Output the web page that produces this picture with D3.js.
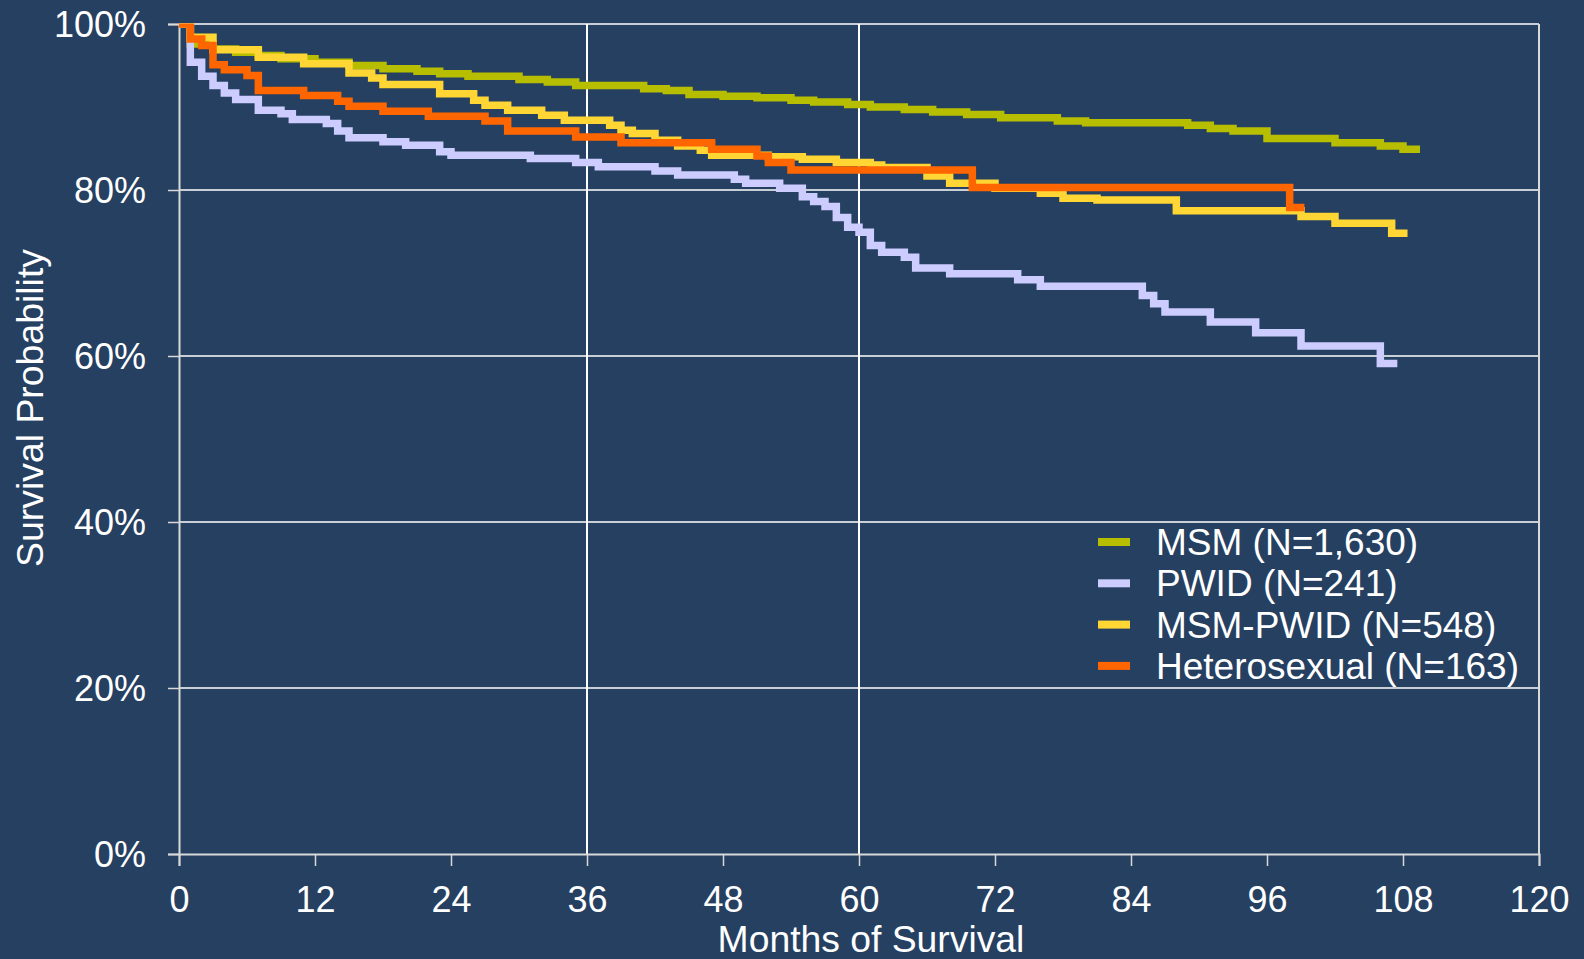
<!DOCTYPE html>
<html>
<head>
<meta charset="utf-8">
<script src="https://cdn.jsdelivr.net/npm/d3@7"></script>
<style>
  html, body { margin: 0; padding: 0; background: #264061; }
  svg { display: block; }
  text { font-family: "Liberation Sans", Arial, sans-serif; fill: #ffffff; }
</style>
</head>
<body>
<svg id="chart" width="1584" height="959"></svg>
<script>
// Kaplan–Meier survival steps: [month, survival %], each value holds until the next month listed.
// The last pair marks where follow-up for the group ends.
const msmSteps = [
  [0,100],[1,97.6],[3,97.0],[5,96.6],[7,96.2],[9,95.8],[12,95.4],[15,95.0],[18,94.6],[21,94.3],
  [23,94.0],[25.5,93.7],[30,93.3],[32.5,93.0],[35,92.6],[41,92.2],[43,92.0],[45,91.5],[48,91.3],
  [51,91.1],[54,90.8],[56,90.6],[59,90.3],[61,90.0],[64,89.7],[66.5,89.4],[69.5,89.1],[72.5,88.7],
  [77.5,88.3],[80,88.1],[89,87.8],[91,87.4],[93,87.1],[96,86.2],[102,85.7],[106,85.3],[108,84.9],
  [109.5,84.9]
];
const pwidSteps = [
  [0,100],[1,95.4],[2,93.7],[3,92.6],[4,91.7],[5,90.9],[7,89.6],[9,89.2],[10,88.5],[13,88.0],
  [14,87.1],[15,86.3],[18,85.8],[20,85.4],[23,84.6],[24,84.2],[31,83.8],[35,83.3],[37,82.8],
  [42,82.3],[44,81.8],[49,81.3],[50,80.8],[53,80.2],[55,79.2],[56,78.6],[57,78.0],[58,76.7],
  [59,75.5],[60,74.9],[61,73.3],[62,72.5],[64,71.9],[65,70.6],[68,69.9],[74,69.2],[76,68.4],
  [85,67.3],[86,66.3],[87,65.3],[91,64.1],[95,62.8],[99,61.2],[106,59.1],[107.5,59.1]
];
const msmPwidSteps = [
  [0,100],[1,98.4],[3,96.9],[7,96.0],[11,95.2],[15,94.1],[17,93.5],[18,92.7],[23,91.6],[26,90.8],
  [27,90.2],[29,89.6],[32,89.0],[34,88.4],[38,87.8],[39,87.2],[40,86.8],[42,86.0],[44,85.3],
  [46,84.8],[47,84.2],[52,84.0],[55,83.7],[58,83.3],[61,83.0],[62,82.7],[66,81.7],[68,80.8],
  [72,80.2],[76,79.6],[78,79.0],[81,78.8],[88,77.5],[99,76.8],[102,76.0],[107,74.8],[108.4,74.8]
];
const heteroSteps = [
  [0,100],[1,98.2],[2,97.4],[3,95.1],[4,94.5],[6,93.8],[7,92.0],[11,91.4],[14,90.7],[15,90.1],
  [18,89.5],[22,88.9],[27,88.3],[29,87.1],[35,86.4],[39,85.7],[47,84.9],[51,84.1],[52,83.3],
  [54,82.4],[70,80.3],[98,77.9],[99.3,77.9]
];

const seriesNames = ["MSM (N=1,630)", "PWID (N=241)", "MSM-PWID (N=548)", "Heterosexual (N=163)"];
const seriesColors = ["#B7BE00", "#CCCCFF", "#FFD633", "#FF6600"];
const seriesSteps = [msmSteps, pwidSteps, msmPwidSteps, heteroSteps];

const xTicks = [0, 12, 24, 36, 48, 60, 72, 84, 96, 108, 120];
const yTicks = [0, 20, 40, 60, 80, 100];
const refMonths = [36, 60];

const svg = d3.select("#chart");
const plotLeft = 179, plotRight = 1539, plotTop = 24, plotBottom = 854;

const x = d3.scaleLinear().domain([0, 120]).range([plotLeft, plotRight]);
const y = d3.scaleLinear().domain([0, 100]).range([plotBottom, plotTop]);

// horizontal gridlines
svg.append("g").selectAll("line").data(yTicks.filter(d => d > 0)).join("line")
  .attr("x1", plotLeft).attr("x2", plotRight)
  .attr("y1", d => y(d)).attr("y2", d => y(d))
  .attr("stroke", "#ffffff").attr("stroke-width", 1.5);

// reference lines at 3 and 5 years
svg.append("g").selectAll("line").data(refMonths).join("line")
  .attr("x1", d => x(d)).attr("x2", d => x(d))
  .attr("y1", plotTop).attr("y2", plotBottom)
  .attr("stroke", "#ffffff").attr("stroke-width", 2);

// right border of plot
svg.append("line")
  .attr("x1", plotRight).attr("x2", plotRight).attr("y1", plotTop).attr("y2", plotBottom)
  .attr("stroke", "#D9D9D9").attr("stroke-width", 2);

// axes
const yAxis = d3.axisLeft(y).tickValues(yTicks).tickFormat(d => d + "%").tickSize(11).tickPadding(22);
const xAxis = d3.axisBottom(x).tickValues(xTicks).tickFormat(d3.format("d")).tickSize(12).tickPadding(20);

const gy = svg.append("g").attr("transform", `translate(${plotLeft},0)`).call(yAxis);
const gx = svg.append("g").attr("transform", `translate(0,${plotBottom})`).call(xAxis);

[gy, gx].forEach(g => {
  g.select(".domain").attr("stroke", "#D9D9D9").attr("stroke-width", 2);
  g.selectAll(".tick line").attr("stroke", "#D9D9D9").attr("stroke-width", 1.5);
  g.selectAll(".tick text").attr("fill", "#ffffff")
    .style("font-family", '"Liberation Sans", Arial, sans-serif')
    .style("font-size", "36px");
});
gy.selectAll(".tick text").attr("dy", "0.36em");
gx.selectAll(".tick text").attr("dy", "0.71em");

// survival curves
svg.append("defs").append("clipPath").attr("id", "plotClip")
  .append("rect").attr("x", plotLeft).attr("y", plotTop - 0.5)
  .attr("width", plotRight - plotLeft).attr("height", plotBottom - plotTop + 0.5);

const line = d3.line()
  .x(d => x(d[0]))
  .y(d => y(d[1]))
  .curve(d3.curveStepAfter);

svg.append("g").attr("clip-path", "url(#plotClip)")
  .selectAll("path").data(seriesSteps).join("path")
  .attr("d", line)
  .attr("fill", "none")
  .attr("stroke", (d, i) => seriesColors[i])
  .attr("stroke-width", 7.5)
  .attr("stroke-linejoin", "miter")
  .attr("stroke-linecap", "butt");

// axis titles
svg.append("text")
  .attr("x", 871).attr("y", 952)
  .attr("text-anchor", "middle")
  .style("font-size", "37.3px")
  .text("Months of Survival");

svg.append("text")
  .attr("transform", "translate(43,408) rotate(-90)")
  .attr("text-anchor", "middle")
  .style("font-size", "37.4px")
  .text("Survival Probability");

// legend
const legend = svg.append("g");
const legendRows = legend.selectAll("g").data(seriesNames).join("g")
  .attr("transform", (d, i) => `translate(1098,${542 + i * 41.3})`);
legendRows.append("line")
  .attr("x1", 0).attr("x2", 32).attr("y1", 0).attr("y2", 0)
  .attr("stroke", (d, i) => seriesColors[i]).attr("stroke-width", 8);
legendRows.append("text")
  .attr("x", 58).attr("y", 13)
  .style("font-size", "37px")
  .text(d => d);
</script>
</body>
</html>
